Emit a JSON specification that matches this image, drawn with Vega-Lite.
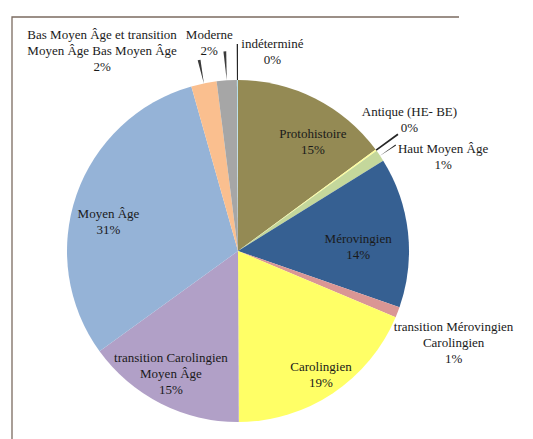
{
  "$schema": "https://vega.github.io/schema/vega-lite/v6.json",
  "width": 452,
  "height": 468,
  "autosize": "none",
  "padding": {"left": 12, "top": 17, "right": 69, "bottom": 0},
  "background": "white",
  "config": {
    "view": {"stroke": null},
    "text": {"font": "Liberation Serif", "fontSize": 13, "color": "#1a1a1a", "lineHeight": 16, "lineBreak": "\n"}
  },
  "data": {
    "values": [
      {"n": 1, "categorie": "Protohistoire", "valeur": 14.9, "etiquette": "Protohistoire\n15%"},
      {"n": 2, "categorie": "Antique (HE- BE)", "valeur": 0.15, "etiquette": "Antique (HE- BE)\n0%"},
      {"n": 3, "categorie": "Haut Moyen Âge", "valeur": 1.1, "etiquette": "Haut Moyen Âge\n1%"},
      {"n": 4, "categorie": "Mérovingien", "valeur": 14.2, "etiquette": "Mérovingien\n14%"},
      {"n": 5, "categorie": "transition Mérovingien Carolingien", "valeur": 1.0, "etiquette": "transition Mérovingien\nCarolingien\n1%"},
      {"n": 6, "categorie": "Carolingien", "valeur": 18.6, "etiquette": "Carolingien\n19%"},
      {"n": 7, "categorie": "transition Carolingien Moyen Âge", "valeur": 15.1, "etiquette": "transition Carolingien\nMoyen Âge\n15%"},
      {"n": 8, "categorie": "Moyen Âge", "valeur": 30.6, "etiquette": "Moyen Âge\n31%"},
      {"n": 9, "categorie": "Bas Moyen Âge et transition Moyen Âge Bas Moyen Âge", "valeur": 2.4, "etiquette": "Bas Moyen Âge et transition\nMoyen Âge Bas Moyen Âge\n2%"},
      {"n": 10, "categorie": "Moderne", "valeur": 1.9, "etiquette": "Moderne\n2%"},
      {"n": 11, "categorie": "indéterminé", "valeur": 0.1, "etiquette": "indéterminé\n0%"}
    ]
  },
  "layer": [
    {
      "data": {"values": [{"cadre": 1}]},
      "mark": {"type": "rect", "filled": false, "stroke": "#7b6b60", "strokeWidth": 1.3, "strokeDash": [447, 915, 468, 0]},
      "encoding": {}
    },
    {
      "encoding": {
        "theta": {"field": "valeur", "type": "quantitative", "stack": true},
        "order": {"field": "n", "type": "quantitative"}
      },
      "layer": [
        {
          "mark": {"type": "arc", "outerRadius": 171},
          "encoding": {
            "color": {
              "field": "categorie",
              "type": "nominal",
              "legend": null,
              "scale": {
                "domain": ["Protohistoire", "Antique (HE- BE)", "Haut Moyen Âge", "Mérovingien", "transition Mérovingien Carolingien", "Carolingien", "transition Carolingien Moyen Âge", "Moyen Âge", "Bas Moyen Âge et transition Moyen Âge Bas Moyen Âge", "Moderne", "indéterminé"],
                "range": ["#948a54", "#ffff99", "#c4d79b", "#366092", "#da9694", "#ffff66", "#b1a0c7", "#95b3d7", "#fabf8f", "#a6a6a6", "#b7dee8"]
              }
            }
          }
        },
        {
          "mark": {"type": "arc", "innerRadius": 171, "outerRadius": 198, "fill": "#262626"},
          "encoding": {"fillOpacity": {"condition": {"test": "datum.n === 2", "value": 1}, "value": 0}}
        },
        {
          "mark": {"type": "arc", "innerRadius": 171, "outerRadius": 207, "fill": "#262626"},
          "encoding": {"fillOpacity": {"condition": {"test": "datum.n === 11", "value": 1}, "value": 0}}
        },
        {
          "mark": {"type": "arc", "innerRadius": 171, "outerRadius": 190, "padAngle": 0.0467, "fill": "#262626"},
          "encoding": {"fillOpacity": {"condition": {"test": "datum.n === 3", "value": 1}, "value": 0}}
        },
        {
          "mark": {"type": "arc", "innerRadius": 171, "outerRadius": 195, "padAngle": 0.1022, "fill": "#262626"},
          "encoding": {"fillOpacity": {"condition": {"test": "datum.n === 9", "value": 0.9}, "value": 0}}
        },
        {
          "mark": {"type": "arc", "innerRadius": 171, "outerRadius": 200, "padAngle": 0.0800, "fill": "#262626"},
          "encoding": {"fillOpacity": {"condition": {"test": "datum.n === 10", "value": 0.9}, "value": 0}}
        },
        {
          "mark": {"type": "text", "radius": 135, "dx": 14, "dy": 3},
          "encoding": {"text": {"condition": {"test": "datum.n === 1", "field": "etiquette"}, "value": ""}}
        },
        {
          "mark": {"type": "text", "radius": 135, "dx": -14, "dy": 3},
          "encoding": {"text": {"condition": {"test": "datum.n === 4", "field": "etiquette"}, "value": ""}}
        },
        {
          "mark": {"type": "text", "radius": 135, "dx": 8, "dy": 4},
          "encoding": {"text": {"condition": {"test": "datum.n === 6", "field": "etiquette"}, "value": ""}}
        },
        {
          "mark": {"type": "text", "radius": 135, "dx": -6, "dy": -13},
          "encoding": {"text": {"condition": {"test": "datum.n === 7", "field": "etiquette"}, "value": ""}}
        },
        {
          "mark": {"type": "text", "radius": 135, "dx": -2, "dy": 7},
          "encoding": {"text": {"condition": {"test": "datum.n === 8", "field": "etiquette"}, "value": ""}}
        },
        {
          "mark": {"type": "text", "radius": 216, "dx": -3, "dy": -12},
          "encoding": {"text": {"condition": {"test": "datum.n === 2", "field": "etiquette"}, "value": ""}}
        },
        {
          "mark": {"type": "text", "radius": 200, "dx": 39, "dy": 9},
          "encoding": {"text": {"condition": {"test": "datum.n === 3", "field": "etiquette"}, "value": ""}}
        },
        {
          "mark": {"type": "text", "radius": 232, "dx": -1, "dy": -7},
          "encoding": {"text": {"condition": {"test": "datum.n === 5", "field": "etiquette"}, "value": ""}}
        },
        {
          "mark": {"type": "text", "radius": 200, "dx": -96, "dy": -20},
          "encoding": {"text": {"condition": {"test": "datum.n === 9", "field": "etiquette"}, "value": ""}}
        },
        {
          "mark": {"type": "text", "radius": 208, "dx": -15, "dy": -8},
          "encoding": {"text": {"condition": {"test": "datum.n === 10", "field": "etiquette"}, "value": ""}}
        },
        {
          "mark": {"type": "text", "radius": 200, "dx": 35, "dy": -7},
          "encoding": {"text": {"condition": {"test": "datum.n === 11", "field": "etiquette"}, "value": ""}}
        }
      ]
    }
  ]
}
